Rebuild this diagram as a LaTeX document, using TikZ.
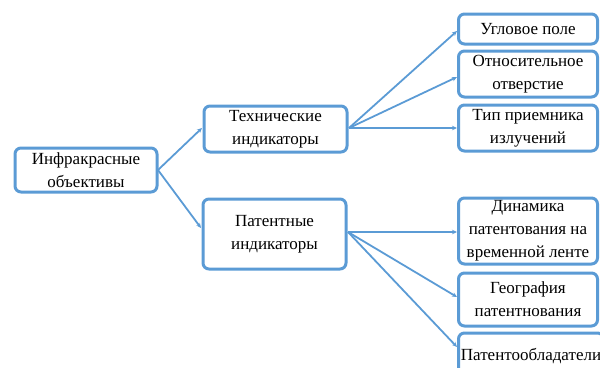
\documentclass[tikz,border=0pt]{standalone}
\usepackage{fontspec}
\setmainfont{Liberation Serif}
\usetikzlibrary{arrows.meta}
\definecolor{bblue}{RGB}{91,155,213}
\tikzset{
  box/.style={draw=bblue, line width=3pt, rounded corners=6pt, fill=white, align=center,
    font=\fontsize{17}{23}\selectfont, inner sep=0pt, text=black},
  conn/.style={draw=bblue, line width=1.8pt, -{Stealth[length=5pt,width=4.5pt]}}
}
\begin{document}
\begin{tikzpicture}[x=1pt,y=-1pt]
\useasboundingbox (0,0) rectangle (600,367);
\node[box, minimum width=142pt, minimum height=44pt] (root) at (86,170) {Инфракрасные\\объективы};
\node[box, minimum width=143pt, minimum height=46pt] (tech) at (275.5,129) {Технические\\индикаторы};
\node[box, minimum width=143pt, minimum height=70pt] (pat) at (274.5,234) {Патентные\\индикаторы};
\node[box, minimum width=139pt, minimum height=30pt] (l1) at (528,29) {Угловое поле};
\node[box, minimum width=139pt, minimum height=46pt] (l2) at (528,74) {Относительное\\отверстие};
\node[box, minimum width=139pt, minimum height=46pt] (l3) at (528,128) {Тип приемника\\излучений};
\node[box, minimum width=139pt, minimum height=66pt] (l4) at (528,231) {Динамика\\патентования на\\временной ленте};
\node[box, minimum width=139pt, minimum height=53pt] (l5) at (528,299.5) {География\\патентнования};
\node[box, minimum width=145pt, minimum height=46pt] (l6) at (531,356) {Патентообладатели};
\coordinate (rootR) at (158,170);
\coordinate (techL) at (202,128);
\coordinate (patL) at (201,228);
\coordinate (techR) at (349,128);
\coordinate (patR) at (348,232);
\coordinate (l1L) at (457,31);
\coordinate (l2L) at (457,77);
\coordinate (l3L) at (457,128);
\coordinate (l4L) at (457,232);
\coordinate (l5L) at (457,297);
\coordinate (l6L) at (457,347);
\draw[conn] (rootR) -- (techL);
\draw[conn] (rootR) -- (patL);
\draw[conn] (techR) -- (l1L);
\draw[conn] (techR) -- (l2L);
\draw[conn] (techR) -- (l3L);
\draw[conn] (patR) -- (l4L);
\draw[conn] (patR) -- (l5L);
\draw[conn] (patR) -- (l6L);
\end{tikzpicture}
\end{document}
